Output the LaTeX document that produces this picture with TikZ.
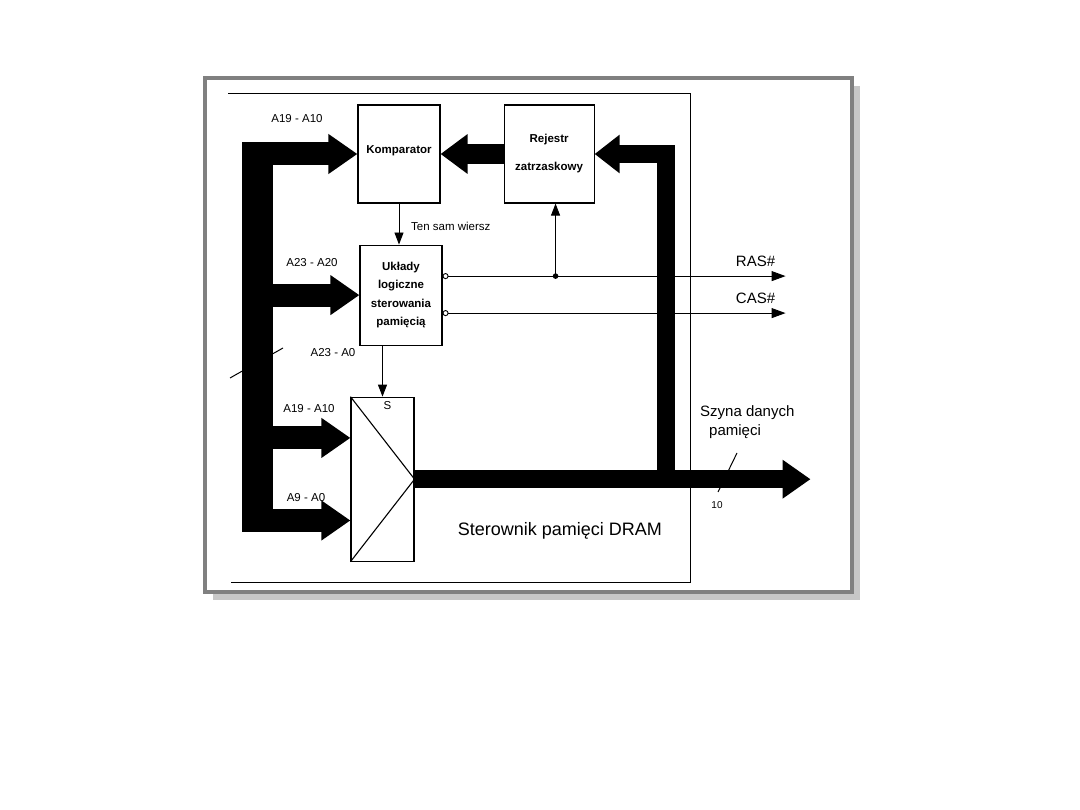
\documentclass[tikz,border=0pt]{standalone}
\usepackage{fontspec}
\setmainfont{Liberation Sans}
\usetikzlibrary{arrows.meta, positioning, calc}

\begin{document}
\begin{tikzpicture}[
    x=1pt, y=-1pt,
    node distance=41pt and 63pt,
    block/.style={rectangle, draw=black, line width=1.1pt, fill=white,
      minimum width=82pt, minimum height=98pt, align=center,
      font=\fontsize{11.5}{14}\selectfont\bfseries, inner sep=2pt},
    lbl/.style={font=\fontsize{11.5}{14}\selectfont, inner sep=1pt},
    biglbl/.style={font=\fontsize{15}{19}\selectfont, inner sep=1pt},
    bus/.style={line width=23pt, -{Triangle[length=29pt, width=38pt]}},
    dbus/.style={line width=18pt, line join=miter, -{Triangle[length=28pt, width=37pt]}},
    sig/.style={line width=0.9pt, -{Triangle[length=12pt, width=9pt]}},
    outsig/.style={line width=0.9pt,
      {Circle[open, length=6pt, width=6pt]}-{Triangle[length=14pt, width=10pt]}}
  ]
  \useasboundingbox (0,0) rectangle (1080,810);
  % slide frame with its shadow
  \fill[black!22] (213,86) rectangle (860,600);
  \filldraw[fill=white, draw=black!50, line width=4pt] (205,78) rectangle (852,592);
  % controller outline, open on the left
  \draw[line width=1pt] (228,94) -- (690,94) -- (690,582) -- (231,582);

  \node[block] (komp) at (399,154) {\raisebox{8pt}{Komparator}};
  \node[block, right=of komp, minimum width=90pt] (rej) {\raisebox{4pt}{Rejestr}\\[14pt] \raisebox{4pt}{zatrzaskowy}};
  \node[block, below=of komp, xshift=2pt, minimum height=100pt,
    font=\fontsize{11.5}{18.5}\selectfont\bfseries] (ukl) {Układy\\ logiczne\\ sterowania\\ pamięcią};
  \node[block, below=51pt of ukl, xshift=-18.5pt, minimum width=63pt, minimum height=164pt] (mux) {};
  \draw[line width=1.1pt] (mux.north west) -- (mux.east) -- (mux.south west);
  \node[lbl, below=4pt of mux.north, xshift=5pt] (sel) {S};

  % control lines
  \draw[sig] (komp.south) -- (komp.south |- ukl.north);
  \node[lbl, anchor=west] (same) at ($(komp.south)!0.55!(komp.south |- ukl.north)+(11,0)$) {Ten sam wiersz};
  \draw[sig] (mux.north |- ukl.south) -- (mux.north);
  \coordinate (ras) at ($(ukl.east)+(0,-19)$);
  \coordinate (cas) at ($(ukl.east)+(0,18)$);
  \coordinate (latch) at ($(ras)+(113,0)$);
  \draw[outsig] (ras) -- ++(343,0);
  \draw[outsig] (cas) -- ++(343,0);
  \fill (latch) circle (2.8);
  \draw[sig] (latch) -- (latch |- rej.south);
  \node[biglbl] (raslbl) at ($(ras)+(313,-15)$) {RAS\#};
  \node[biglbl] (caslbl) at ($(cas)+(313,-15)$) {CAS\#};

  % bus width marks, partly hidden by the buses
  \draw[line width=1pt] (230,378) -- (283,348);
  \draw[line width=1pt] (737,453) -- (718,492);

  % address bus
  \coordinate (busleft) at (242,0);
  \coordinate (busmid) at (257.5,0);
  \coordinate (muxhi) at ($(mux.north west)!0.25!(mux.south west)$);
  \coordinate (muxlo) at ($(mux.north west)!0.75!(mux.south west)$);
  \draw[line width=31pt] (komp.west -| busmid) -- (muxlo -| busmid);
  \draw[bus] (komp.west -| busleft) -- (komp.west);
  \draw[bus] (ukl.west -| busleft) -- (ukl.west);
  \draw[bus] (muxhi -| busleft) -- (muxhi);
  \draw[bus] (muxlo -| busleft) -- (muxlo);
  \draw[bus, line width=20pt, -{Triangle[length=27pt, width=38pt]}] (rej.west) -- (komp.east);

  % data bus
  \coordinate (dbx) at (666,0);
  \coordinate (dbend) at ($(mux.east)+(396,0)$);
  \draw[dbus] (mux.east) -- (dbend);
  \draw[dbus, -{Triangle[length=25pt, width=37pt]}] (mux.east -| dbx) -- (rej.east -| dbx) -- (rej.east);

  % labels
  \node[lbl] (a1) at (297,119) {A19 - A10};
  \node[lbl] (a2) at (312,263) {A23 - A20};
  \node[lbl] (a3) at (333,353) {A23 - A0};
  \node[lbl] (a4) at (309,409) {A19 - A10};
  \node[lbl] (a5) at (306,498) {A9 - A0};
  \node[font=\fontsize{10}{12}\selectfont] (width) at (717,505) {10};
  \node[biglbl, align=left, anchor=north west] (szyna) at (699,404) {Szyna danych\\ \hspace{9pt}pamięci};
  \node[font=\fontsize{18}{22}\selectfont] (title) at (560,531) {Sterownik pamięci DRAM};
\end{tikzpicture}
\end{document}
